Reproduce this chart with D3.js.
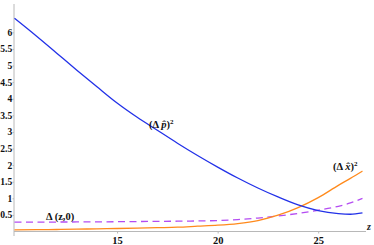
<!DOCTYPE html>
<html>
<head>
<meta charset="utf-8">
<script src="https://cdn.jsdelivr.net/npm/d3@7"></script>
<style>
  body { margin: 0; background: #fff; }
  text { font-family: "Liberation Serif", "DejaVu Serif", serif; }
</style>
</head>
<body>
<div id="chart"></div>
<script>
// values
const zValues   = [9.9, 11, 12, 13, 14, 15, 16, 17, 18, 19, 20, 21, 22, 23, 24, 25, 26, 26.6, 27.2];
const dpSquared = [6.42, 5.88, 5.37, 4.86, 4.36, 3.87, 3.44, 3.05, 2.66, 2.29, 1.94, 1.61, 1.31, 1.04, 0.8, 0.63, 0.54, 0.52, 0.56];
const dxSquared = [0.05, 0.055, 0.06, 0.07, 0.08, 0.09, 0.1, 0.115, 0.13, 0.16, 0.19, 0.24, 0.33, 0.49, 0.72, 1.02, 1.39, 1.6, 1.82];
const deltaZ0   = [0.28, 0.282, 0.285, 0.287, 0.29, 0.295, 0.3, 0.305, 0.31, 0.318, 0.33, 0.36, 0.405, 0.465, 0.545, 0.64, 0.76, 0.86, 1.0];
const yTicks = [0.5, 1, 1.5, 2, 2.5, 3, 3.5, 4, 4.5, 5, 5.5, 6];
const xTicks = [15, 20, 25];

const width = 374, height = 245;
const svg = d3.select("#chart").append("svg")
    .attr("width", width)
    .attr("height", height);

const x = d3.scaleLinear().domain([9.875, 27.5]).range([14, 368.5]);
const y = d3.scaleLinear().domain([0, 6.5]).range([231.5, 15.7]);

const axisColor = "#b8b8b8";

// x axis
const xAxis = d3.axisBottom(x).tickValues(xTicks).tickSize(2).tickPadding(3).tickFormat(d3.format("d"));
const gx = svg.append("g").attr("transform", `translate(0,${y(0)})`).call(xAxis);
gx.select(".domain").attr("stroke", axisColor).attr("d", `M${x.range()[0]},0H366`);
gx.selectAll(".tick line").attr("stroke", axisColor);
gx.selectAll(".tick text").attr("fill", "#111").style("font-size", "10.5px").style("font-weight", "bold");

// y axis
const yAxis = d3.axisLeft(y).tickValues(yTicks).tickSize(1.5).tickPadding(0.3).tickFormat(d => d);
const gy = svg.append("g").attr("transform", `translate(${x(9.875)},0)`).call(yAxis);
gy.select(".domain").attr("stroke", axisColor).attr("d", "M0,4V236");
gy.selectAll(".tick line").attr("stroke", axisColor);
gy.selectAll(".tick text").attr("fill", "#111").style("font-size", "9.6px").style("font-weight", "bold");

svg.append("text")
    .attr("x", 367).attr("y", 230)
    .style("font-size", "10px").style("font-style", "italic").style("font-weight", "bold")
    .attr("fill", "#222")
    .text("z");

const line = d3.line().x(d => x(d[0])).y(d => y(d[1])).curve(d3.curveMonotoneX);

function drawSeries(vals, color, dash) {
    svg.append("path")
        .datum(zValues.map((z, i) => [z, vals[i]]))
        .attr("fill", "none")
        .attr("stroke", color)
        .attr("stroke-width", 1.3)
        .attr("stroke-dasharray", dash)
        .attr("d", line);
}

drawSeries(deltaZ0, "#b44cf2", "7,4.5");
drawSeries(dxSquared, "#ff8a1c", null);
drawSeries(dpSquared, "#2231e8", null);

// curve labels
function label(xp, yp, parts) {
    const t = svg.append("text")
        .attr("x", xp).attr("y", yp)
        .style("font-size", "10.5px").style("font-weight", "bold")
        .attr("fill", "#111");
    parts.forEach(p => {
        const s = t.append("tspan").text(p.t);
        if (p.dy) s.attr("dy", p.dy);
        if (p.size) s.style("font-size", p.size);
        if (p.italic) s.style("font-style", "italic");
    });
}

label(149, 128, [{t: "(\u0394 "}, {t: "p\u0302", italic: true}, {t: ")"}, {t: "2", dy: -4, size: "7px"}]);
label(333, 170, [{t: "(\u0394 "}, {t: "x\u0302", italic: true}, {t: ")"}, {t: "2", dy: -4, size: "7px"}]);
label(46, 220, [{t: "\u0394 (z,0)"}]);
</script>
</body>
</html>
